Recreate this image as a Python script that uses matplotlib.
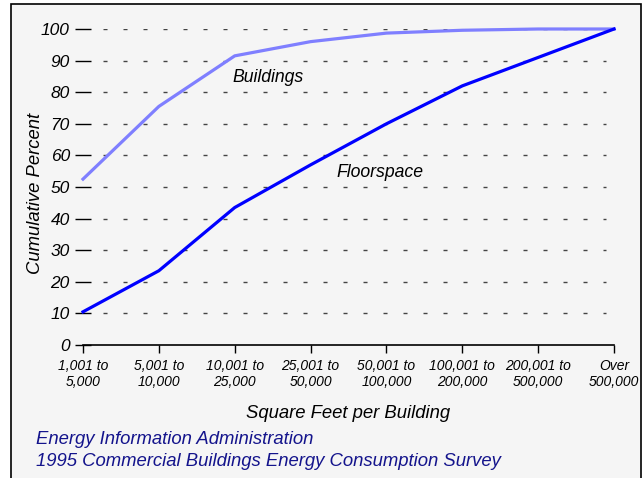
import matplotlib
matplotlib.use("Agg")
import matplotlib.pyplot as plt
from matplotlib.patches import Rectangle

categories = ["1,001 to\n5,000", "5,001 to\n10,000", "10,001 to\n25,000", "25,001 to\n50,000",
              "50,001 to\n100,000", "100,001 to\n200,000", "200,001 to\n500,000", "Over\n500,000"]
buildings = [52.5, 75.5, 91.5, 96.0, 98.7, 99.6, 100.0, 100.0]
floorspace = [10.5, 23.5, 43.5, 57.0, 70.0, 82.0, 91.0, 100.0]
yticks = [0, 10, 20, 30, 40, 50, 60, 70, 80, 90, 100]

plt.rcParams["font.family"] = ["Liberation Sans", "DejaVu Sans"]
plt.rcParams["font.style"] = "italic"

W, H = 644, 478
fig = plt.figure(figsize=(W / 100, H / 100), dpi=100)
fig.patch.set_facecolor("white")
fig.patches.append(Rectangle((11 / W, -0.02), 630 / W, 1 - 4 / H + 0.02,
                             transform=fig.transFigure, facecolor="#f5f5f5",
                             edgecolor="black", linewidth=1.2, zorder=-5))

ax = fig.add_axes([83 / W, 1 - 345 / H, 531 / W, 316 / H])
ax.set_facecolor("none")
x = range(len(categories))

# dashed guide lines
for y in yticks[1:]:
    ax.axhline(y, xmin=0.038, xmax=0.985, color="#444444", linewidth=1,
               linestyle=(0, (2.9, 11.5)), zorder=1)

ax.plot(x, buildings, color="#7f7fff", linewidth=2.3, clip_on=False, zorder=3)
ax.plot(x, floorspace, color="#0000ff", linewidth=2.3, clip_on=False, zorder=3)

ax.set_xlim(0, 7)
ax.set_ylim(0, 100)
ax.set_xticks(list(x))
ax.set_xticklabels(categories, fontsize=10, linespacing=1.15)
ax.set_yticks(yticks)
ax.set_yticklabels([str(v) for v in yticks], fontsize=12.5)
ax.tick_params(axis="y", direction="inout", length=11, pad=4, width=1)
ax.tick_params(axis="x", direction="out", length=6, pad=4, width=1)
for s in ["top", "right", "left"]:
    ax.spines[s].set_visible(False)
ax.spines["bottom"].set_linewidth(1.2)

ax.text(1.964, 84.8, "Buildings", fontsize=12.7, va="center")
ax.text(3.335, 54.7, "Floorspace", fontsize=12.7, va="center")
ax.set_ylabel("Cumulative Percent", fontsize=13.3)
ax.yaxis.set_label_coords(-0.074, 0.48)
ax.set_xlabel("Square Feet per Building", fontsize=13.3, labelpad=12)

fig.text(36 / W, 1 - 440 / H, "Energy Information Administration", fontsize=13.3,
         color="#14148c", va="center")
fig.text(36 / W, 1 - 462 / H, "1995 Commercial Buildings Energy Consumption Survey",
         fontsize=13.3, color="#14148c", va="center")

fig.savefig("out.png", dpi=100)
